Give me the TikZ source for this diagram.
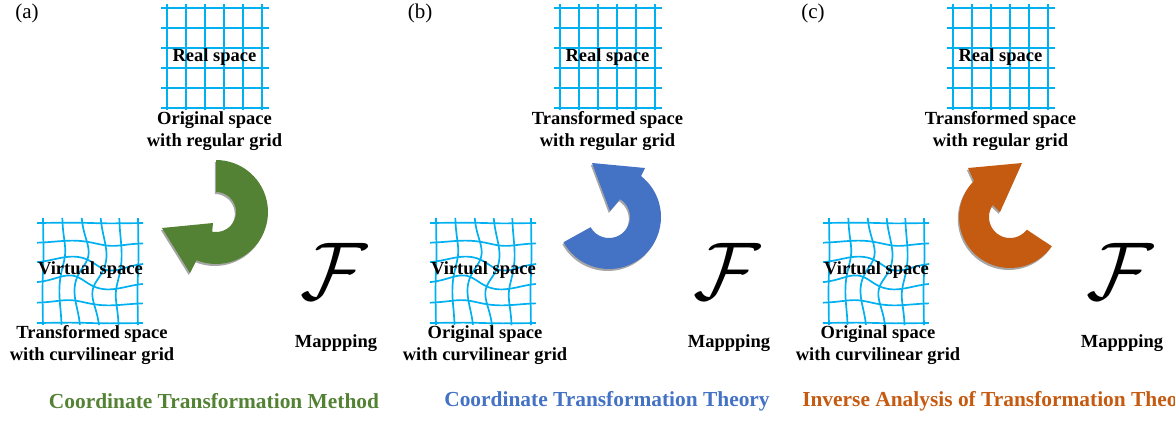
\documentclass[tikz,border=0pt]{standalone}
\usepackage{fontspec}
\setmainfont{Liberation Serif}
\usetikzlibrary{positioning}

\definecolor{gridcyan}{RGB}{0,176,240}
\definecolor{ctmgreen}{RGB}{84,130,53}
\definecolor{cttblue}{RGB}{68,114,196}
\definecolor{iatorange}{RGB}{197,90,17}

% outlines of the three circular arrows
\newcommand{\greenarrowpath}{plot[domain=-90:112,samples=40] ({216+52*cos(\x)},{212+52*sin(\x)})
  -- (190,273) -- (162,228) -- (213,223)
  -- plot[domain=101:-90,samples=40] ({216+20*cos(\x)},{212+20*sin(\x)}) -- cycle}
\newcommand{\bluearrowpath}{plot[domain=151:-52,samples=40] ({609+52*cos(\x)},{217+52*sin(\x)})
  -- (645,168) -- (592,163) -- (610,211)
  -- plot[domain=-58:151,samples=40] ({609+21*cos(\x)},{217+21*sin(\x)}) -- cycle}
\newcommand{\orangearrowpath}{plot[domain=35:225,samples=40] ({1010+51*cos(\x)},{217+51*sin(\x)})
  -- (968,168) -- (1022,163) -- (1000,212)
  -- plot[domain=215:37,samples=40] ({1010+21*cos(\x)},{217+21*sin(\x)}) -- cycle}

\begin{document}
\begin{tikzpicture}[
    x=1pt, y=-1pt,
    gridline/.style={draw=gridcyan,line width=1.7pt},
    spacelabel/.style={font=\bfseries\fontsize{18.5}{22}\selectfont,align=center,inner sep=0pt},
    paneltag/.style={font=\fontsize{21}{24}\selectfont,inner sep=0pt},
    methodtitle/.style={font=\bfseries\fontsize{21.4}{24}\selectfont,inner sep=0pt},
    arrowshadow/.style={fill=black!35,shift={(-1.2,2)}},
    declare function={
        tw(\a,\b)=38*exp(-(\a*\a+\b*\b)/800);
        twx(\a,\b)=\a*cos(tw(\a,\b))-\b*sin(tw(\a,\b));
        twy(\a,\b)=\a*sin(tw(\a,\b))+\b*cos(tw(\a,\b));
    }
]

\clip (0,0) rectangle (1175,421);

% grids
\foreach \dx in {0,393,786}{
    \foreach \i in {0,...,5}{
        \draw[gridline] ({\dx+167+19*\i},4) -- ({\dx+167+19*\i},110);
        \draw[gridline] ({\dx+161},{8+20*\i}) -- ({\dx+269},{8+20*\i});
    }
    \begin{scope}[shift={({\dx+90.5},273)}]
        \foreach \i in {0,...,5}{
            \draw[gridline] plot[domain=-53.5:52.5,samples=50,smooth]
                ({twx(\x,-50+20*\i)},{twy(\x,-50+20*\i)});
            \draw[gridline] plot[domain=-55:52,samples=50,smooth]
                ({twx(-47.5+19*\i,\x)},{twy(-47.5+19*\i,\x)});
        }
    \end{scope}
}

% circular arrows
\fill[arrowshadow] \greenarrowpath;
\fill[ctmgreen] \greenarrowpath;
\fill[arrowshadow] \bluearrowpath;
\fill[cttblue] \bluearrowpath;
\fill[arrowshadow] \orangearrowpath;
\fill[iatorange] \orangearrowpath;

% labels
\foreach \p/\dx/\toplbl/\botlbl/\ttl/\col in {
    a/0/{Original space\\with regular grid}/{Transformed space\\with curvilinear grid}/{Coordinate Transformation Method}/ctmgreen,
    b/393/{Transformed space\\with regular grid}/{Original space\\with curvilinear grid}/{Coordinate Transformation Theory}/cttblue,
    c/786/{Transformed space\\with regular grid}/{Original space\\with curvilinear grid}/{Inverse Analysis of Transformation Theory}/iatorange}{
    \node[paneltag] (tag\p) at ({\dx+27},13) {(\p)};
    \node[spacelabel] (real\p) at ({\dx+214.5},57.5) {Real space};
    \node[spacelabel] (top\p) at ({\dx+214.5},131) {\toplbl};
    \node[spacelabel] (virt\p) at ({\dx+90.5},270.5) {Virtual space};
    \node[spacelabel] (bot\p) at ({\dx+92},345) {\botlbl};
    \node[scale=8.2,inner sep=0pt] (map\p) at ({\dx+334},271) {$\mathcal{F}$};
    \node[spacelabel] (mapping\p) at ({\dx+336},343) {Mappping};
    \node[methodtitle,text=\col] (title\p) at ({\dx+214},401) {\ttl};
}

\end{tikzpicture}
\end{document}
